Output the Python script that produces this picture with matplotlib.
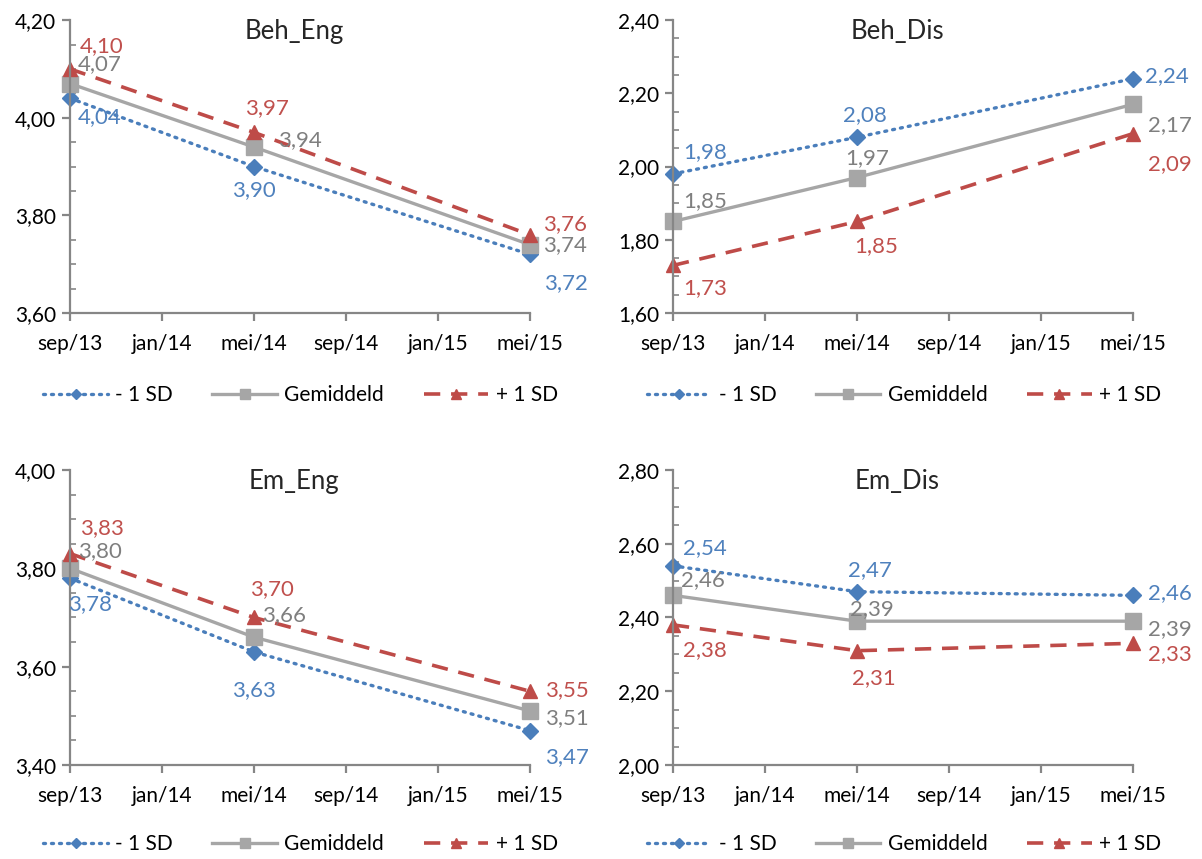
import matplotlib
matplotlib.use('Agg')
import matplotlib.pyplot as plt
from matplotlib.ticker import MultipleLocator
import numpy as np

plt.rcParams['font.family'] = ['Lato', 'DejaVu Sans']

# months since sep/13 for the axis ticks and the three measurements
tick_months = [0, 4, 8, 12, 16, 20]
tick_labels = ['sep/13', 'jan/14', 'mei/14', 'sep/14', 'jan/15', 'mei/15']
meet_months = [0, 8, 20]

series_names = ['- 1 SD', 'Gemiddeld', '+ 1 SD']

beh_eng_min = [4.04, 3.90, 3.72]
beh_eng_gem = [4.07, 3.94, 3.74]
beh_eng_plus = [4.10, 3.97, 3.76]

beh_dis_min = [1.98, 2.08, 2.24]
beh_dis_gem = [1.85, 1.97, 2.17]
beh_dis_plus = [1.73, 1.85, 2.09]

em_eng_min = [3.78, 3.63, 3.47]
em_eng_gem = [3.80, 3.66, 3.51]
em_eng_plus = [3.83, 3.70, 3.55]

em_dis_min = [2.54, 2.47, 2.46]
em_dis_gem = [2.46, 2.39, 2.39]
em_dis_plus = [2.38, 2.31, 2.33]

panel_titles = ['Beh_Eng', 'Beh_Dis', 'Em_Eng', 'Em_Dis']
panel_ylims = [(3.60, 4.20), (1.60, 2.40), (3.40, 4.00), (2.00, 2.80)]

BLUE = '#4a7ebb'
GREY = '#a6a6a6'
RED = '#be4b48'
LBL_BLUE = '#4f81bd'
LBL_GREY = '#7f7f7f'
LBL_RED = '#c0504d'
AXIS = '#868686'

styles = [
    dict(color=BLUE, ls=(0, (0.6, 1.8)), marker='D', ms=8, lw=2.4, dash_capstyle='round'),
    dict(color=GREY, ls='-', marker='s', ms=11, lw=2.4),
    dict(color=RED, ls=(0, (4.5, 3.0)), marker='^', ms=10.5, lw=2.6),
]
label_colors = [LBL_BLUE, LBL_GREY, LBL_RED]

# label offsets in pixels (dx, dy, ha) per panel / series / point
offsets = [
    [[(8, -19, 'left'), (0, -24, 'center'), (14, -29, 'left')],
     [(8, 19, 'left'), (24, 7, 'left'), (13, 0, 'left')],
     [(10, 23, 'left'), (13, 24, 'center'), (13, 11, 'left')]],
    [[(10, 22, 'left'), (8, 22, 'center'), (12, 3, 'left')],
     [(10, 20, 'left'), (10, 19, 'center'), (15, -21, 'left')],
     [(10, -23, 'left'), (19, -25, 'center'), (15, -30, 'left')]],
    [[(-2, -26, 'left'), (0, -38, 'center'), (15, -26, 'left')],
     [(8, 17, 'left'), (8, 22, 'left'), (15, -7, 'left')],
     [(10, 25, 'left'), (18, 28, 'center'), (15, 1, 'left')]],
    [[(10, 18, 'left'), (13, 22, 'center'), (15, 2, 'left')],
     [(8, 15, 'left'), (15, 12, 'center'), (15, -8, 'left')],
     [(10, -25, 'left'), (17, -27, 'center'), (15, -11, 'left')]],
]

panels = [
    [beh_eng_min, beh_eng_gem, beh_eng_plus],
    [beh_dis_min, beh_dis_gem, beh_dis_plus],
    [em_eng_min, em_eng_gem, em_eng_plus],
    [em_dis_min, em_dis_gem, em_dis_plus],
]

fig = plt.figure(figsize=(12.02, 8.59), dpi=100)
rects = [
    [0.0582, 0.6356, 0.3827, 0.341],
    [0.5599, 0.6356, 0.3827, 0.341],
    [0.0582, 0.1094, 0.3827, 0.3435],
    [0.5599, 0.1094, 0.3827, 0.3435],
]
legend_pos = [(0.250, 0.540), (0.752, 0.540), (0.250, 0.017), (0.752, 0.017)]

for p in range(4):
    ax = fig.add_axes(rects[p])
    for s in range(3):
        vals = panels[p][s]
        ax.plot(meet_months, vals, label=series_names[s], clip_on=False, **styles[s])
        for i in range(3):
            dx, dy, ha = offsets[p][s][i]
            ax.annotate(('%.2f' % vals[i]).replace('.', ','), (meet_months[i], vals[i]),
                        xytext=(dx, dy), textcoords='offset pixels', ha=ha, va='center',
                        fontsize=16, color=label_colors[s])

    lo, hi = panel_ylims[p]
    ax.set_ylim(lo, hi)
    ax.set_xlim(0, 20)
    ax.set_xticks(tick_months)
    ax.set_xticklabels(tick_labels)
    ax.yaxis.set_minor_locator(MultipleLocator(0.05))
    yt = np.arange(lo, hi + 0.001, 0.2)
    ax.set_yticks(yt)
    ax.set_yticklabels([('%.2f' % v).replace('.', ',') for v in yt])

    for side in ['top', 'right']:
        ax.spines[side].set_visible(False)
    for side in ['left', 'bottom']:
        ax.spines[side].set_color(AXIS)
        ax.spines[side].set_linewidth(1.6)
    ax.tick_params(axis='both', which='major', color=AXIS, width=1.6, length=6,
                   labelsize=15, labelcolor='black')
    ax.tick_params(axis='y', which='minor', color=AXIS, width=1.2, length=4, direction='in')
    ax.tick_params(axis='x', pad=9)
    ax.tick_params(axis='y', pad=4)

    ax.text(0.487, 0.962, panel_titles[p], transform=ax.transAxes, ha='center', va='center',
            fontsize=18.5, color='#262626')

    fig.legend(handles=ax.get_lines(), labels=series_names, loc='center',
               bbox_to_anchor=legend_pos[p], ncol=3, frameon=False, fontsize=15,
               handlelength=3.1, columnspacing=1.9, handletextpad=0.35, markerscale=0.7)

fig.savefig('out.png', dpi=100)
